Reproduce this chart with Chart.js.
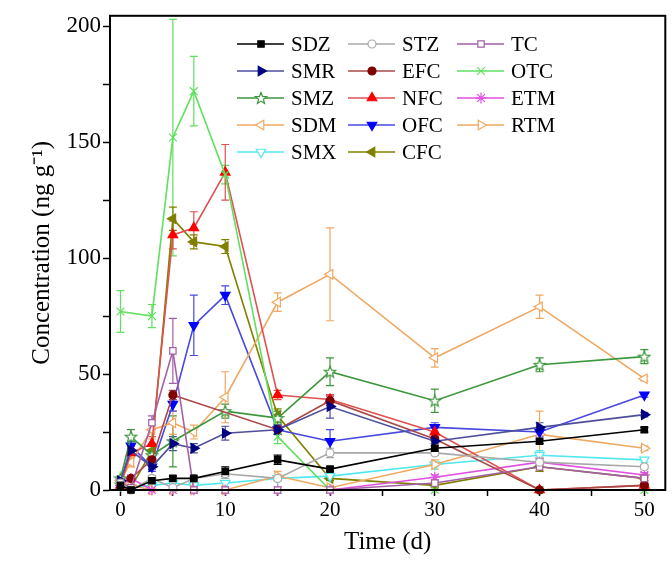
<!DOCTYPE html>
<html lang="en">
<head>
  <meta charset="UTF-8">
  <title>Antibiotic concentration over time</title>
  <script src="https://cdn.jsdelivr.net/npm/chart.js"></script>
  <style>
    body {
      margin: 0;
      padding: 0;
      background-color: #ffffff;
    }
    #chart-container {
      width: 672px;
      height: 567px;
    }
  </style>
</head>
<body>
  <div id="chart-container">
    <canvas id="concChart" width="672" height="567"></canvas>
  </div>

  <script>
    // sampling days
    const days = [0, 1, 3, 5, 7, 10, 15, 20, 30, 40, 50];

    // concentrations (ng/g), one value per sampling day (null = not plotted)
    const sdz = [2, 0, 4, 5, 5, 8, 13, 9, 18, 21, 26];
    const stz = [3, 0, 5, 1, 5, 7, 5, 16, 16, 12, 10];
    const tc  = [3, 1, 29, 60, 0, 0, 0, 0, 3, 10, 5];
    const smr = [4, 17, 10, 20, 18, 24.5, 26, 36, 21, 27, 32.5];
    const efc = [3, 5, 13, 41, null, null, 26, 38.5, 22, 0, 2];
    const otc = [77, null, 75, 152, 172, 136, 23, 0, 0, 0, 0];
    const smz = [5, 23, 15, 21, null, 34, 31, 51, 38.5, 54, 57.5];
    const nfc = [2, 16, 20, 110, 113, 137, 41, 39, 25, 0, 2];
    const etm = [2, 5, 0, 0, 0, 0, 0, 0, 5.5, 12, 6.5];
    const sdm = [4, 12, 26, 29, 25, 40, 81, 93, 57, 79, 48];
    const ofc = [3, 19, 10, 37, 71, 84, 26, 21, 27, 25, 41];
    const rtm = [3, 2, 0, 0, 0, 0, 6, 1, 11, 24, 18];
    const smx = [2, 1, 2, 3, 2, 3, 5, 6, 11, 15, 13];
    const cfc = [3, 1, 17, 117, 107, 105, 32, 5, 2, 10, 5];

    // standard deviations
    const sdzErr = [0, 0, 2, 1, 1, 2, 2, 1, 1, 1, 1];
    const smrErr = [0, 2, 1, 3, 2, 3, 2, 5, 2, 2, 1];
    const smzErr = [1, 3, 2, 11, 0, 3, 3, 6, 5, 3, 3];
    const otcErr = [9, 0, 5, 51, 15, 4, 3, 0, 0, 0, 0];
    const nfcErr = [1, 2, 3, 6, 7, 12, 2, 2, 2, 0, 1];
    const sdmErr = [1, 2, 4, 5, 3, 11, 4, 20, 4, 5, 1];
    const ofcErr = [0, 2, 2, 3, 13, 4, 2, 5, 2, 2, 1];
    const rtmErr = [0, 0, 0, 0, 0, 0, 2, 1, 2, 10, 1];
    const cfcErr = [0, 0, 3, 5, 3, 3, 3, 1, 1, 2, 1];
    const tcErr  = [0, 0, 3, 14, 0, 0, 0, 0, 0, 2, 1];
    const stzErr = [0, 0, 1, 0, 1, 2, 1, 2, 1, 1, 1];
    const smxErr = [0, 0, 0, 0, 0, 0, 1, 1, 1, 2, 1];
    const etmErr = [0, 0, 0, 0, 0, 0, 0, 0, 1, 2, 1];
    const efcErr = [0, 0, 1, 2, 0, 0, 2, 2, 2, 0, 1];

    const xTicks = [0, 5, 10, 15, 20, 25, 30, 35, 40, 45, 50];
    const yTicks = [0, 25, 50, 75, 100, 125, 150, 175, 200];

    const serif = '"Liberation Serif", "Times New Roman", serif';

    // open five-point star used by SMZ
    function makeStar(color) {
      const c = document.createElement('canvas');
      c.width = 14;
      c.height = 14;
      const g = c.getContext('2d');
      g.beginPath();
      for (let i = 0; i < 10; i++) {
        const r = i % 2 === 0 ? 6 : 2.6;
        const a = -Math.PI / 2 + i * Math.PI / 5;
        const px = 7 + r * Math.cos(a);
        const py = 7.5 + r * Math.sin(a);
        if (i === 0) g.moveTo(px, py); else g.lineTo(px, py);
      }
      g.closePath();
      g.fillStyle = '#fff';
      g.fill();
      g.strokeStyle = color;
      g.lineWidth = 1.2;
      g.stroke();
      return c;
    }

    function series(label, values, errs, line, marker) {
      return {
        label: label,
        data: values.map((v, i) => ({ x: days[i], y: v })),
        errs: errs,
        borderColor: line,
        backgroundColor: marker.fill,
        pointBorderColor: marker.stroke,
        pointBackgroundColor: marker.fill,
        pointStyle: marker.style,
        pointRotation: marker.rotation || 0,
        pointRadius: marker.radius || 5,
        pointBorderWidth: 1.2,
        borderWidth: 1.6,
        tension: 0,
        spanGaps: true,
        clip: false
      };
    }

    // legend order runs row by row, three per row
    const datasets = [
      series('SDZ', sdz, sdzErr, '#000000', { style: 'rect', fill: '#000000', stroke: '#000000', radius: 4.5 }),
      series('STZ', stz, stzErr, '#a8a8a8', { style: 'circle', fill: '#ffffff', stroke: '#a8a8a8', radius: 4 }),
      series('TC', tc, tcErr, '#a55fa5', { style: 'rect', fill: '#ffffff', stroke: '#a55fa5', radius: 4.5 }),
      series('SMR', smr, smrErr, '#4d4d9d', { style: 'triangle', rotation: 90, fill: '#000080', stroke: '#000080', radius: 5.5 }),
      series('EFC', efc, efcErr, '#a84848', { style: 'circle', fill: '#800000', stroke: '#800000', radius: 4 }),
      series('OTC', otc, otcErr, '#5fe05f', { style: 'crossRot', fill: '#5fe05f', stroke: '#5fe05f', radius: 5.5 }),
      series('SMZ', smz, smzErr, '#3c963c', { style: makeStar('#3c963c'), fill: '#ffffff', stroke: '#3c963c' }),
      series('NFC', nfc, nfcErr, '#e05050', { style: 'triangle', fill: '#ff0000', stroke: '#ff0000', radius: 5.5 }),
      series('ETM', etm, etmErr, '#e050e0', { style: 'star', fill: '#e050e0', stroke: '#e050e0', radius: 5.5 }),
      series('SDM', sdm, sdmErr, '#f0a860', { style: 'triangle', rotation: 270, fill: '#ffffff', stroke: '#f0a860', radius: 5.5 }),
      series('OFC', ofc, ofcErr, '#4848e0', { style: 'triangle', rotation: 180, fill: '#0000ff', stroke: '#0000ff', radius: 5.5 }),
      series('RTM', rtm, rtmErr, '#f0a860', { style: 'triangle', rotation: 90, fill: '#ffffff', stroke: '#f0a860', radius: 5.5 }),
      series('SMX', smx, smxErr, '#50e8f0', { style: 'triangle', rotation: 180, fill: '#ffffff', stroke: '#50e8f0', radius: 5.5 }),
      series('CFC', cfc, cfcErr, '#808000', { style: 'triangle', rotation: 270, fill: '#808000', stroke: '#808000', radius: 5.5 })
    ];

    // vertical error bars with caps
    const errorBars = {
      id: 'errorBars',
      beforeDatasetsDraw(chart) {
        const ctx = chart.ctx;
        const yScale = chart.scales.y;
        ctx.save();
        chart.data.datasets.forEach((ds, di) => {
          const meta = chart.getDatasetMeta(di);
          ctx.strokeStyle = ds.borderColor;
          ctx.lineWidth = 1.2;
          ds.data.forEach((p, i) => {
            const e = ds.errs ? ds.errs[i] : 0;
            if (p.y === null || !e) return;
            const x = meta.data[i].x;
            const top = yScale.getPixelForValue(p.y + e);
            const bot = yScale.getPixelForValue(p.y - e);
            ctx.beginPath();
            ctx.moveTo(x, top);
            ctx.lineTo(x, bot);
            ctx.moveTo(x - 4, top);
            ctx.lineTo(x + 4, top);
            ctx.moveTo(x - 4, bot);
            ctx.lineTo(x + 4, bot);
            ctx.stroke();
          });
        });
        ctx.restore();
      }
    };

    // box round the plot area
    const frame = {
      id: 'frame',
      afterDraw(chart) {
        const a = chart.chartArea;
        const ctx = chart.ctx;
        ctx.save();
        ctx.strokeStyle = '#000';
        ctx.lineWidth = 2;
        ctx.strokeRect(a.left, a.top, a.right - a.left, a.bottom - a.top);
        ctx.restore();
      }
    };

    // legend: line sample with marker, three columns
    const lineLegend = {
      id: 'lineLegend',
      afterDraw(chart) {
        const ctx = chart.ctx;
        const colX = [237, 348, 457];
        const rowY = [44, 71, 98, 125, 152];
        ctx.save();
        ctx.font = '21px ' + serif;
        ctx.textBaseline = 'middle';
        chart.data.datasets.forEach((ds, i) => {
          const x0 = colX[i % 3];
          const y = rowY[Math.floor(i / 3)];
          ctx.strokeStyle = ds.borderColor;
          ctx.lineWidth = 1.6;
          ctx.beginPath();
          ctx.moveTo(x0, y);
          ctx.lineTo(x0 + 47, y);
          ctx.stroke();
          ctx.fillStyle = ds.pointBackgroundColor;
          ctx.strokeStyle = ds.pointBorderColor;
          ctx.lineWidth = 1.2;
          Chart.helpers.drawPoint(ctx, {
            pointStyle: ds.pointStyle,
            rotation: ds.pointRotation,
            radius: ds.pointRadius,
            borderWidth: 1.2
          }, x0 + 24, y);
          ctx.fillStyle = '#000';
          ctx.fillText(ds.label, x0 + 54, y + 1);
        });
        ctx.restore();
      }
    };

    const ctx = document.getElementById('concChart').getContext('2d');
    const concChart = new Chart(ctx, {
      type: 'line',
      data: { datasets: datasets },
      plugins: [errorBars, frame, lineLegend],
      options: {
        responsive: false,
        animation: false,
        devicePixelRatio: 1,
        layout: { padding: { top: 14, right: 4, left: 0, bottom: 0 } },
        plugins: {
          legend: { display: false },
          tooltip: { enabled: false }
        },
        scales: {
          x: {
            type: 'linear',
            min: -1,
            max: 52,
            afterBuildTicks: s => { s.ticks = xTicks.map(v => ({ value: v })); },
            afterFit: s => { s.height = 77; },
            ticks: {
              color: '#000',
              font: { family: serif, size: 21 },
              padding: 2,
              maxRotation: 0,
              autoSkip: false,
              callback: v => (v % 10 === 0 ? v : '')
            },
            grid: { drawOnChartArea: false, drawTicks: true, tickLength: 6, color: '#000', tickWidth: 1.5 },
            border: { color: '#000', width: 2 },
            title: {
              display: true,
              text: 'Time (d)',
              color: '#000',
              font: { family: serif, size: 25 },
              padding: { top: 0, bottom: 10 }
            }
          },
          y: {
            min: 0,
            max: 204.5,
            afterBuildTicks: s => { s.ticks = yTicks.map(v => ({ value: v })); },
            afterFit: s => { s.width = 110; },
            ticks: {
              color: '#000',
              font: { family: serif, size: 23 },
              padding: 2,
              autoSkip: false,
              callback: v => (v % 50 === 0 ? v : '')
            },
            grid: { drawOnChartArea: false, drawTicks: true, tickLength: 7, color: '#000', tickWidth: 1.5 },
            border: { color: '#000', width: 2 },
            title: {
              display: true,
              text: 'Concentration (ng g\u207B\u00B9)',
              color: '#000',
              font: { family: serif, size: 25 },
              padding: { top: 27, bottom: 0 }
            }
          }
        }
      }
    });
  </script>
</body>
</html>
